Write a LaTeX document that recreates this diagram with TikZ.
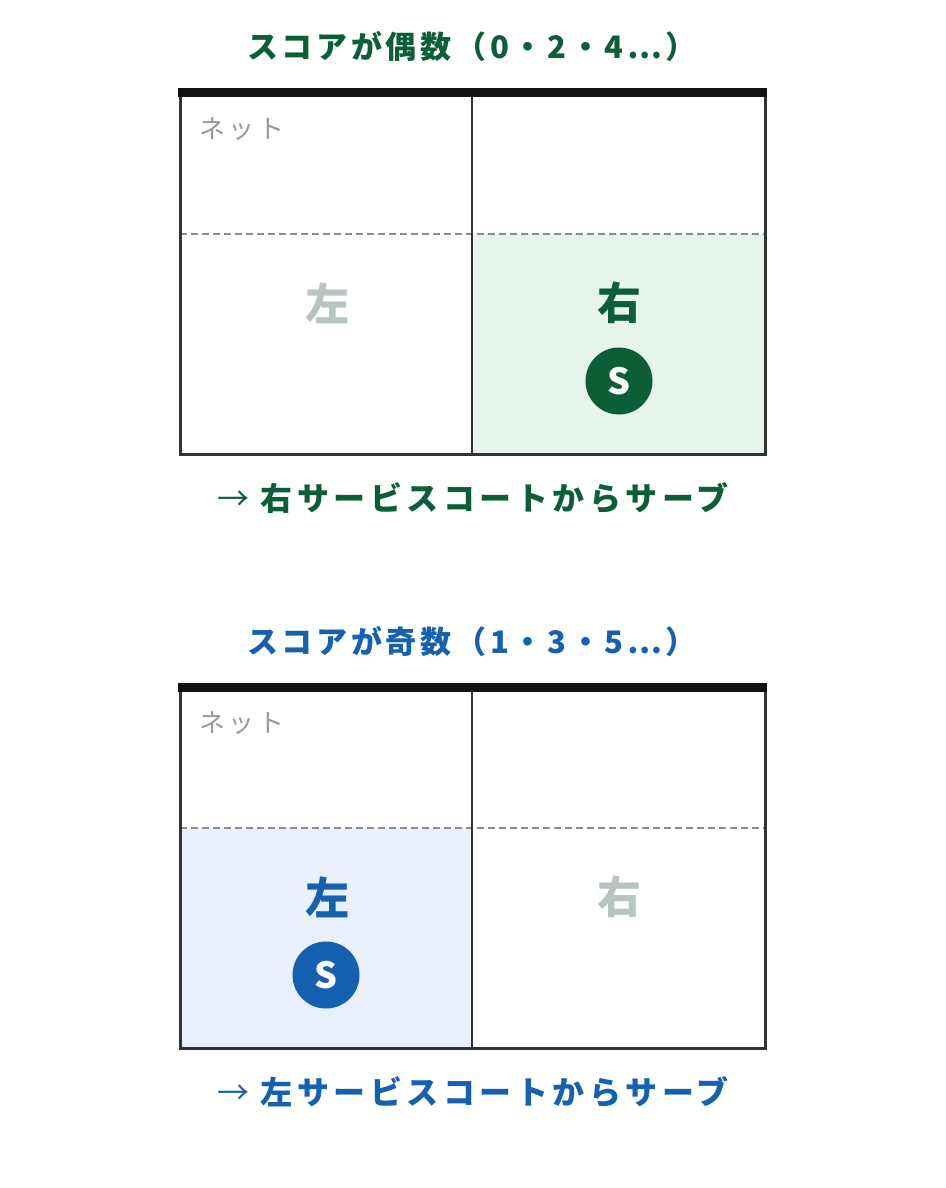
\documentclass[tikz,border=0pt]{standalone}
\usepackage{fontspec}
\setmainfont{Noto Sans CJK JP}
\usetikzlibrary{positioning}

\definecolor{evengreen}{HTML}{0B5E35}
\definecolor{evenfill}{HTML}{E6F4EC}
\definecolor{oddblue}{HTML}{1560AF}
\definecolor{oddfill}{HTML}{E8F0FB}
\definecolor{offgray}{HTML}{B8C4BE}
\definecolor{netgray}{HTML}{999999}
\definecolor{courtdark}{HTML}{333333}

\begin{document}
\begin{tikzpicture}[x=1pt,y=-1pt]
    \tikzstyle{title}=[font=\fontsize{31}{36}\selectfont\bfseries\addfontfeatures{LetterSpace=12}, inner sep=0pt]
    \tikzstyle{msg}=[font=\fontsize{32}{37}\selectfont\bfseries\addfontfeatures{LetterSpace=14}, inner sep=0pt]
    \tikzstyle{side}=[font=\fontsize{44}{50}\selectfont\bfseries, inner sep=0pt]
    \tikzstyle{netlabel}=[font=\fontsize{26}{30}\selectfont\addfontfeatures{LetterSpace=14}, text=netgray, inner sep=0pt, anchor=west]
    \tikzstyle{server}=[circle, minimum size=67pt, inner sep=0pt, text=white, font=\fontsize{36}{40}\selectfont\bfseries]
    \tikzstyle{courtline}=[line width=3pt, draw=courtdark]
    \tikzstyle{midline}=[line width=2pt, draw=courtdark]
    \tikzstyle{dashline}=[line width=2pt, draw=gray!90, dash pattern=on 7pt off 4pt]
    \tikzstyle{netline}=[line width=9pt, draw=black!93]

    \useasboundingbox (0,0) rectangle (945,1188);

    % even score
    \node[title, text=evengreen] (eventitle) at (472,47) {スコアが偶数（0・2・4⋯）};
    \fill[evenfill] (472,234) rectangle (765,454);
    \draw[dashline] (180,234) -- (765,234);
    \draw[midline] (472,95) -- (472,454);
    \draw[courtline] (180,95) rectangle (765,454);
    \draw[netline] (178,93) -- (767,93);
    \node[netlabel] (evennet) at (199,129) {ネット};
    \node[side, text=offgray] (evenleft) at (327,303) {左};
    \node[side, text=evengreen] (evenright) at (619,303) {右};
    \node[server, fill=evengreen] (evenserver) at (619,381) {S};
    \node[msg, text=evengreen] (evenmsg) at (473,498) {{\mdseries →} 右サービスコートからサーブ};

    % odd score
    \node[title, text=oddblue] (oddtitle) at (472,641) {スコアが奇数（1・3・5⋯）};
    \fill[oddfill] (180,828) rectangle (472,1048);
    \draw[dashline] (180,828) -- (765,828);
    \draw[midline] (472,689) -- (472,1048);
    \draw[courtline] (180,689) rectangle (765,1048);
    \draw[netline] (178,687) -- (767,687);
    \node[netlabel] (oddnet) at (199,723) {ネット};
    \node[side, text=oddblue] (oddleft) at (327,897) {左};
    \node[side, text=offgray] (oddright) at (619,897) {右};
    \node[server, fill=oddblue] (oddserver) at (326,975) {S};
    \node[msg, text=oddblue] (oddmsg) at (473,1092) {{\mdseries →} 左サービスコートからサーブ};
\end{tikzpicture}
\end{document}
